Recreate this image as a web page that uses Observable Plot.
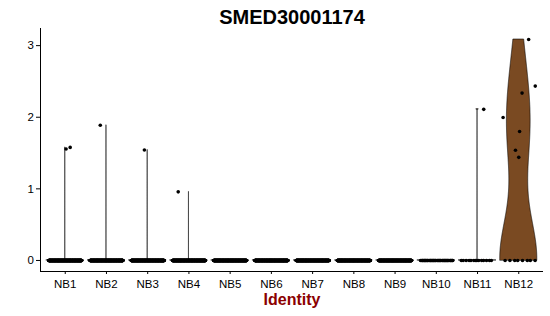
<!DOCTYPE html>
<html><head><meta charset="utf-8">
<script src="https://cdn.jsdelivr.net/npm/d3@7"></script>
<script src="https://cdn.jsdelivr.net/npm/@observablehq/plot@0.6"></script>
<style>html,body{margin:0;padding:0;background:#fff;}</style>
</head><body><div id="chart"></div>
<script>
// ---- data ----
const groups = ["NB1","NB2","NB3","NB4","NB5","NB6","NB7","NB8","NB9","NB10","NB11","NB12"];
const zeroCounts = [400,400,400,400,400,400,400,400,400,50,14,8];
const nonzeroGroups = ["NB1","NB1","NB2","NB3","NB4","NB11","NB12","NB12","NB12","NB12","NB12","NB12","NB12"];
const nonzeroValues = [1.556,1.579,1.888,1.543,0.958,2.11,3.085,2.435,2.337,1.996,1.80,1.54,1.44];
const nonzeroJitter = [0.02,0.12,-0.15,-0.08,-0.26,0.15,0.24,0.40,0.08,-0.38,0.02,-0.08,0.0];
const yTicks = [0,1,2,3];
const titleText = "SMED30001174";
const axisTitle = "Identity";
const fillColor = "#7a4a22";

// ---- cells (one point per cell, deterministic jitter for the zero cells) ----
const cells = [];
groups.forEach((g, gi) => {
  for (let i = 0; i < zeroCounts[gi]; i++) {
    const u = ((i + 0.5) * 0.6180339887 + gi * 0.3137) % 1;
    cells.push({gi, value: 0, jitter: u * 0.8 - 0.4});
  }
});
nonzeroValues.forEach((v, k) => {
  cells.push({gi: groups.indexOf(nonzeroGroups[k]), value: v, jitter: nonzeroJitter[k]});
});

// ---- violin (ggplot-style gaussian KDE, bw.nrd0, trimmed, scale = "width") ----
function bwNrd0(x) {
  const n = x.length;
  const s = d3.deviation(x) || 0;
  const sorted = x.slice().sort(d3.ascending);
  const iqr = d3.quantileSorted(sorted, 0.75) - d3.quantileSorted(sorted, 0.25);
  // Seurat adds ~1e-5 noise before drawing, so a zero IQR collapses the bandwidth
  if (iqr === 0) return 1e-6;
  return 0.9 * Math.min(s, iqr / 1.34) * Math.pow(n, -0.2);
}
const violins = [];
groups.forEach((g, gi) => {
  const vals = cells.filter(c => c.gi === gi).map(c => c.value);
  const lo = d3.min(vals), hi = d3.max(vals);
  if (hi === lo) {
    violins.push({gi, y: lo, x1: gi + 1 - 0.45, x2: gi + 1 + 0.45});
    violins.push({gi, y: lo, x1: gi + 1 - 0.45, x2: gi + 1 + 0.45});
    return;
  }
  const bw = bwNrd0(vals);
  const N = 512;
  const grid = d3.range(N).map(i => lo + (hi - lo) * i / (N - 1));
  const dens = grid.map(y => d3.sum(vals, v => Math.exp(-0.5 * ((y - v) / bw) ** 2)));
  const m = d3.max(dens);
  grid.forEach((y, i) => {
    const w = 0.45 * dens[i] / m;
    violins.push({gi, y, x1: gi + 1 - w, x2: gi + 1 + w});
  });
});

const yMax = d3.max(cells, c => c.value);
const pad = 0.05 * yMax;

const chart = Plot.plot({
  width: 550, height: 316,
  marginTop: 28, marginBottom: 45, marginLeft: 40, marginRight: 7,
  style: {fontFamily: "'Liberation Sans', Arial, sans-serif", background: "white", color: "black"},
  x: {type: "linear", domain: [0.4, groups.length + 0.6]},
  y: {domain: [-pad, yMax + pad]},
  marks: [
    Plot.areaX(violins, {y: "y", x1: "x1", x2: "x2", z: "gi", fill: fillColor, stroke: "black", strokeWidth: 0.6, curve: "linear"}),
    Plot.dot(cells, {x: d => d.gi + 1 + d.jitter, y: "value", r: 1.8, fill: "black", stroke: null}),
    Plot.ruleX([0.4], {stroke: "black", strokeWidth: 1}),
    Plot.ruleY([-pad], {stroke: "black", strokeWidth: 1}),
    Plot.axisX({ticks: d3.range(1, groups.length + 1), tickFormat: d => groups[d - 1], tickSize: 3, tickPadding: 5, fontSize: 11.5, label: null}),
    Plot.axisY({ticks: yTicks, tickFormat: d => String(d), tickSize: 4, tickPadding: 2.5, fontSize: 11.5, label: null}),
    Plot.text([titleText], {text: d => d, frameAnchor: "top", lineAnchor: "middle", dy: -11.4, fontSize: 20, fontWeight: "bold", fill: "black"}),
    Plot.text([axisTitle], {text: d => d, frameAnchor: "bottom", lineAnchor: "middle", dy: 28, fontSize: 16, fontWeight: "bold", fill: "#8b0000"})
  ]
});
document.getElementById("chart").appendChild(chart);
</script>
</body></html>
